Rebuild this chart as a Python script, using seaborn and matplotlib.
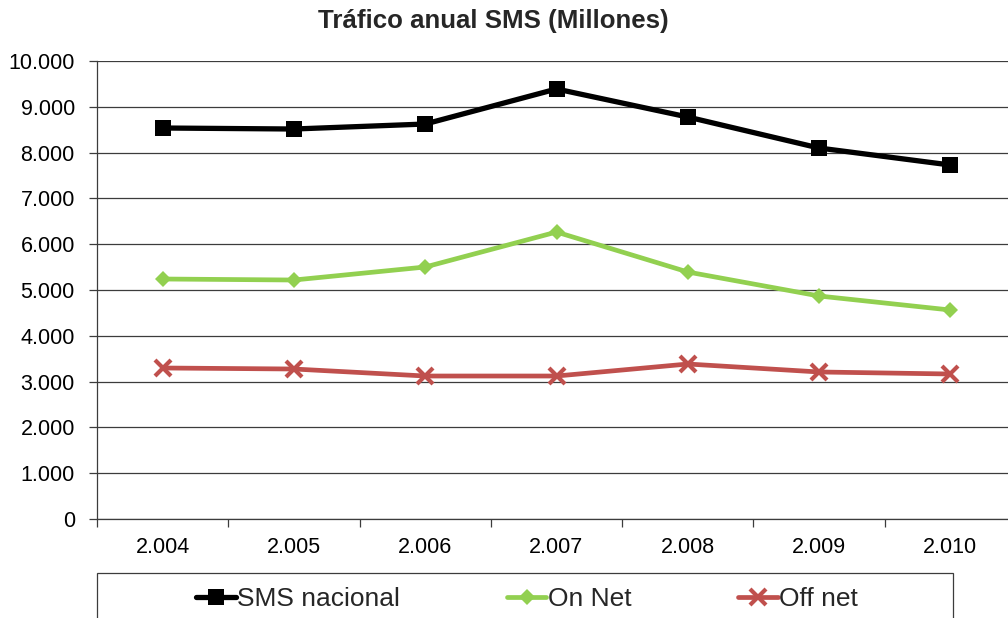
import matplotlib
matplotlib.use("Agg")
import matplotlib.pyplot as plt
import seaborn as sns
import pandas as pd
from matplotlib.ticker import FixedLocator, FuncFormatter

years = ["2.004", "2.005", "2.006", "2.007", "2.008", "2.009", "2.010"]
sms_nacional = [8537, 8515, 8624, 9389, 8777, 8100, 7729]
on_net = [5240, 5218, 5502, 6266, 5393, 4869, 4563]
off_net = [3297, 3275, 3122, 3122, 3384, 3210, 3166]
series_names = ["SMS nacional", "On Net", "Off net"]
y_ticks = list(range(0, 10001, 1000))

sns.set_theme(style="white")
plt.rcParams["font.family"] = ["Liberation Sans", "DejaVu Sans"]

fig = plt.figure(figsize=(10.08, 6.18), dpi=100)
ax = fig.add_axes([97 / 1008, 1 - 519 / 618, (1016 - 97) / 1008, (519 - 61) / 618])

styles = {
    "SMS nacional": dict(color="#000000", marker="s", markersize=11.5, lw=3.8, mew=0),
    "On Net": dict(color="#92D050", marker="D", markersize=8.5, lw=3.4, mew=0),
    "Off net": dict(color="#C0504D", marker="x", markersize=11, lw=3.4, mew=3),
}
for name, vals in zip(series_names, [sms_nacional, on_net, off_net]):
    df = pd.DataFrame({"year": years, "value": vals})
    st = styles[name]
    sns.lineplot(data=df, x="year", y="value", ax=ax, color=st["color"],
                 marker=st["marker"], markersize=st["markersize"],
                 linewidth=st["lw"], markeredgewidth=st["mew"],
                 markeredgecolor=st["color"], label=name, sort=False, zorder=3)

ax.set_xlim(-0.5, 6.5)
ax.set_ylim(0, 10000)
ax.set_xlabel("")
ax.set_ylabel("")
ax.set_yticks(y_ticks)
ax.yaxis.set_major_formatter(FuncFormatter(lambda v, p: "0" if v == 0 else f"{int(v):,}".replace(",", ".")))
ax.grid(axis="y", color="#3c3c3c", lw=0.9)
ax.set_axisbelow(True)
for s in ["top", "right"]:
    ax.spines[s].set_visible(False)
for s in ["left", "bottom"]:
    ax.spines[s].set_color("#3c3c3c")
    ax.spines[s].set_linewidth(0.9)

ax.xaxis.set_minor_locator(FixedLocator([i + 0.5 for i in range(-1, 7)]))
ax.tick_params(axis="x", which="major", length=0, pad=13, labelsize=15.5, labelcolor="black")
ax.tick_params(axis="x", which="minor", length=6, width=0.9, color="#3c3c3c", direction="out", bottom=True)
ax.tick_params(axis="y", which="major", length=6, width=0.9, color="#3c3c3c", direction="out", left=True, pad=10, labelsize=15.5, labelcolor="black")

fig.text(0.489, 1 - 21 / 618, "Tráfico anual SMS (Millones)", ha="center", va="center",
         fontsize=18.6, fontweight="bold")

handles, labels = ax.get_legend_handles_labels()
if ax.legend_:
    ax.legend_.remove()
leg = fig.legend(handles, labels, loc="center", bbox_to_anchor=(527 / 1008, 1 - 599 / 618),
                 ncol=3, frameon=False, fontsize=19, handlelength=1.5, handletextpad=0.05,
                 columnspacing=4.05)
fig.add_artist(plt.Rectangle((97 / 1008, -0.02), (953 - 97) / 1008, (618 - 573) / 618 + 0.02,
                             transform=fig.transFigure, fill=False, edgecolor="#3c3c3c", lw=0.9))

fig.savefig("out.png", dpi=100)
